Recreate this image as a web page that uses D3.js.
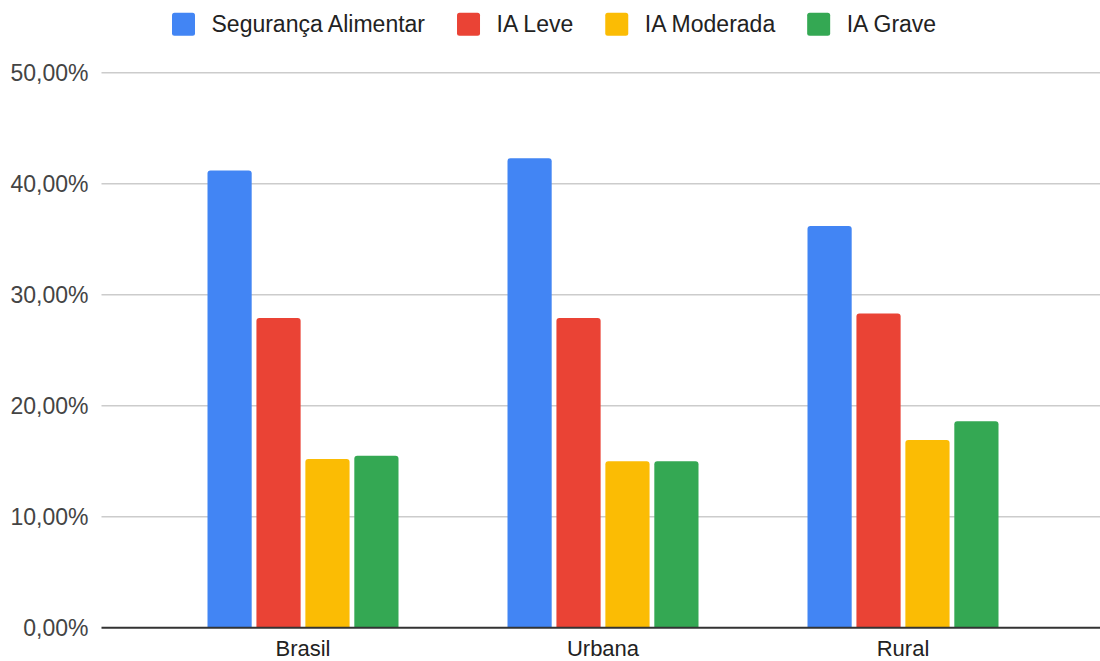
<!DOCTYPE html>
<html>
<head>
<meta charset="utf-8">
<script src="https://cdn.jsdelivr.net/npm/d3@7"></script>
<style>
  html, body { margin: 0; padding: 0; background: #fff; }
  svg { display: block; font-family: "Liberation Sans", Arial, sans-serif; }
</style>
</head>
<body>
<svg id="chart" width="1100" height="661"></svg>
<script>
// Food security levels by area (share of households, %)
const categories = ["Brasil", "Urbana", "Rural"];
const seriesNames = ["Segurança Alimentar", "IA Leve", "IA Moderada", "IA Grave"];
const seguranca = [41.2, 42.3, 36.2];
const iaLeve = [27.9, 27.9, 28.3];
const iaModerada = [15.2, 15.0, 16.9];
const iaGrave = [15.5, 15.0, 18.6];
const yTicks = [0, 10, 20, 30, 40, 50];
const colors = ["#4285F4", "#EA4335", "#FBBC04", "#34A853"];

const seriesValues = [seguranca, iaLeve, iaModerada, iaGrave];
const rows = categories.map((c, i) => ({
  category: c,
  values: seriesNames.map((s, j) => ({ series: s, idx: j, value: seriesValues[j][i] }))
}));

const svg = d3.select("#chart");
const gridLeft = 101.5, gridRight = 1100;

const x0 = d3.scaleBand().domain(categories).range([153, 1053]).paddingInner(0).paddingOuter(0);
const groupW = 191;
const x1 = d3.scaleBand().domain(seriesNames).range([0, groupW]).paddingInner(0.097);
const y = d3.scaleLinear().domain([0, 50]).range([627.7, 72.7]);

const fmt = v => d3.format(".2f")(v).replace(".", ",") + "%";

// gridlines
svg.append("g").selectAll("line")
  .data(yTicks.filter(t => t > 0))
  .join("line")
  .attr("x1", gridLeft).attr("x2", gridRight)
  .attr("y1", d => y(d)).attr("y2", d => y(d))
  .attr("stroke", "#cccccc").attr("stroke-width", 1.5);

// y tick labels
svg.append("g").selectAll("text")
  .data(yTicks)
  .join("text")
  .attr("x", 88.5).attr("y", d => y(d))
  .attr("dy", "0.35em")
  .attr("text-anchor", "end")
  .attr("font-size", 23)
  .attr("fill", "#444")
  .text(fmt);

// rounded-top bar path
function barPath(bx, by, bw, bh, r) {
  r = Math.min(r, bh, bw / 2);
  return `M${bx},${by + bh}V${by + r}Q${bx},${by} ${bx + r},${by}H${bx + bw - r}Q${bx + bw},${by} ${bx + bw},${by + r}V${by + bh}Z`;
}

const groups = svg.append("g").selectAll("g")
  .data(rows)
  .join("g")
  .attr("transform", d => `translate(${x0(d.category) + (x0.bandwidth() - groupW) / 2},0)`);

groups.selectAll("path")
  .data(d => d.values)
  .join("path")
  .attr("d", d => barPath(x1(d.series), y(d.value), x1.bandwidth(), y(0) - y(d.value), 3))
  .attr("fill", d => colors[d.idx]);

// baseline
svg.append("line")
  .attr("x1", gridLeft).attr("x2", gridRight)
  .attr("y1", y(0)).attr("y2", y(0))
  .attr("stroke", "#333").attr("stroke-width", 2);

// category labels
svg.append("g").selectAll("text")
  .data(categories)
  .join("text")
  .attr("x", d => x0(d) + x0.bandwidth() / 2)
  .attr("y", 656)
  .attr("text-anchor", "middle")
  .attr("font-size", 22)
  .attr("fill", "#222")
  .text(d => d);

// legend
const legend = svg.append("g");
let lx = 172;
seriesNames.forEach((s, i) => {
  legend.append("rect")
    .attr("x", lx).attr("y", 12.7)
    .attr("width", 23).attr("height", 23)
    .attr("rx", 2.5)
    .attr("fill", colors[i]);
  const t = legend.append("text")
    .attr("x", lx + 39.5).attr("y", 24.2)
    .attr("dy", "0.35em")
    .attr("font-size", 23)
    .attr("fill", "#222")
    .text(s);
  const w = t.node().getComputedTextLength();
  lx = lx + 39.5 + w + 32;
});
</script>
</body>
</html>
